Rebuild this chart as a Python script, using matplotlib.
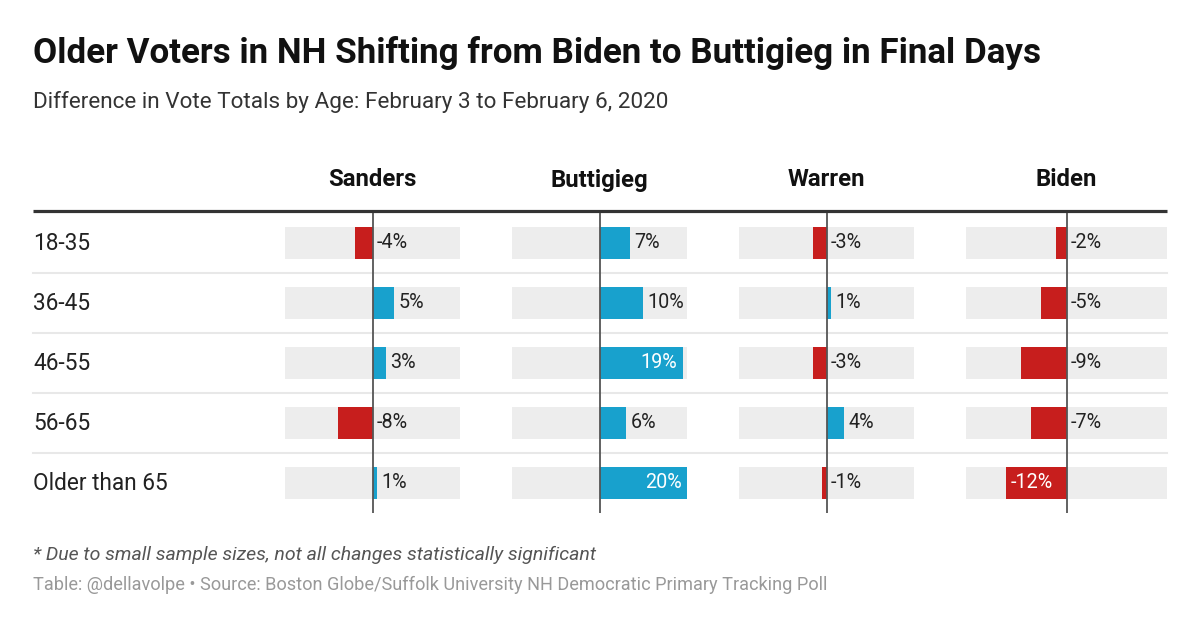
import matplotlib
matplotlib.use("Agg")
import matplotlib.pyplot as plt

plt.rcParams["font.family"] = ["Roboto", "DejaVu Sans"]

TITLE = "Older Voters in NH Shifting from Biden to Buttigieg in Final Days"
SUBTITLE = "Difference in Vote Totals by Age: February 3 to February 6, 2020"
NOTE = "* Due to small sample sizes, not all changes statistically significant"
SOURCE = "Table: @dellavolpe \u2022 Source: Boston Globe/Suffolk University NH Democratic Primary Tracking Poll"

age_groups = ["18-35", "36-45", "46-55", "56-65", "Older than 65"]
candidates = ["Sanders", "Buttigieg", "Warren", "Biden"]
sanders = [-4, 5, 3, -8, 1]
buttigieg = [7, 10, 19, 6, 20]
warren = [-3, 1, -3, 4, -1]
biden = [-2, -5, -9, -7, -12]
values = [sanders, buttigieg, warren, biden]

RED = "#c71e1d"
BLUE = "#18a1cd"
BG = "#ededed"
W, H = 1200, 629

# column boxes in pixels: left edge, width
col_boxes = [(285, 175), (512, 175), (739, 175), (966, 201)]
rows_top, rows_bottom = 213, 513

fig = plt.figure(figsize=(W / 100, H / 100), dpi=100)
fig.patch.set_facecolor("white")

over = fig.add_axes([0, 0, 1, 1])
over.set_xlim(0, W)
over.set_ylim(H, 0)
over.axis("off")

over.text(33, 53, TITLE, fontsize=25.2, fontweight="bold", color="#111111", va="center")
over.text(33, 102, SUBTITLE, fontsize=16.2, color="#333333", va="center")
over.text(33, 555, NOTE, fontsize=14, color="#555555", style="italic", va="center")
over.text(33, 585, SOURCE, fontsize=13.1, color="#999999", va="center")

over.plot([33, 1167], [211, 211], color="#333333", lw=2.3, solid_capstyle="butt")
for i in range(1, len(age_groups)):
    y = rows_top + 60 * i
    over.plot([33, 1167], [y, y], color="#e8e8e8", lw=1.5)
for i, g in enumerate(age_groups):
    over.text(33, rows_top + 30 + 60 * i, g, fontsize=16.3, color="#222222", va="center")

for (x0, w), name, vals in zip(col_boxes, candidates, values):
    ax = fig.add_axes([x0 / W, (H - rows_bottom) / H, w / W, (rows_bottom - rows_top) / H])
    ax.set_xlim(-20, 20)
    ax.set_ylim(len(age_groups) - 0.5, -0.5)
    ax.axis("off")
    ax.patch.set_alpha(0)
    ys = list(range(len(age_groups)))
    ax.barh(ys, [40] * len(ys), left=-20, height=0.54, color=BG, zorder=1)
    ax.barh(ys, vals, height=0.54, color=[BLUE if v > 0 else RED for v in vals], zorder=2)
    ax.axvline(0, color="#555555", lw=1.3, zorder=3)
    over.text(x0 + w / 2, 180, name, fontsize=17.2, fontweight="bold", color="#111111",
              ha="center", va="center")
    for y, v in zip(ys, vals):
        label = f"{v}%"
        if abs(v) >= 12:
            if v > 0:
                ax.annotate(label, (v, y), xytext=(-3.6, 0), textcoords="offset points",
                            ha="right", va="center", color="white", fontsize=14.2, zorder=4)
            else:
                ax.annotate(label, (v, y), xytext=(3, 0), textcoords="offset points",
                            ha="left", va="center", color="white", fontsize=14.2, zorder=4)
        else:
            ax.annotate(label, (max(v, 0), y), xytext=(3.3, 0), textcoords="offset points",
                        ha="left", va="center", color="#222222", fontsize=14.2, zorder=4)

fig.savefig("out.png", dpi=100)
